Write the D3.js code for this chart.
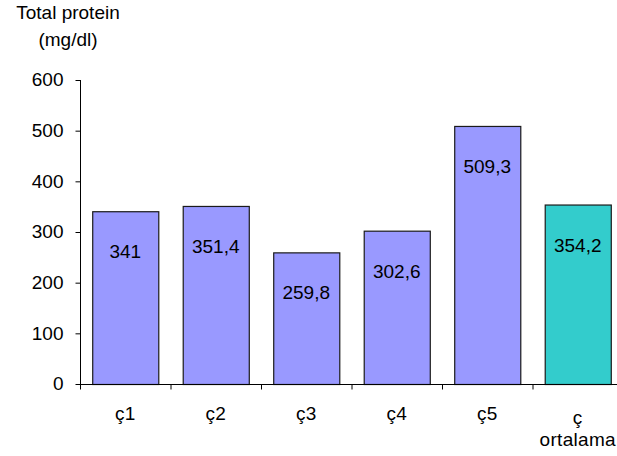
<!DOCTYPE html>
<html>
<head>
<meta charset="utf-8">
<script src="https://cdn.jsdelivr.net/npm/d3@7"></script>
<style>
  html, body { margin: 0; padding: 0; background: #fff; }
  svg { display: block; }
  text { font-family: "Liberation Sans", Arial, sans-serif; fill: #000; }
</style>
</head>
<body>
<svg id="chart" width="617" height="456"></svg>
<script>
// Total protein per group (mg/dl)
const categories = ["ç1", "ç2", "ç3", "ç4", "ç5", "ç\nortalama"];
const values = [341, 351.4, 259.8, 302.6, 509.3, 354.2];
const valueLabels = ["341", "351,4", "259,8", "302,6", "509,3", "354,2"];
const yTicks = [0, 100, 200, 300, 400, 500, 600];
const titleLines = ["Total protein", "(mg/dl)"];

const svg = d3.select("#chart");

const x = d3.scaleBand()
  .domain(categories)
  .range([80, 623])
  .paddingInner(0.27)
  .paddingOuter(0.135);

const y = d3.scaleLinear()
  .domain([0, 600])
  .range([384, 80]);

// bars
svg.append("g")
  .selectAll("rect")
  .data(values)
  .join("rect")
  .attr("x", (d, i) => x(categories[i]) + 0.5)
  .attr("y", d => y(d) + 0.5)
  .attr("width", x.bandwidth())
  .attr("height", d => y(0) - y(d))
  .attr("fill", (d, i) => i === values.length - 1 ? "#33CCCC" : "#9999FF")
  .attr("stroke", "#1a1a1a")
  .attr("stroke-width", 1.2);

// value labels inside bars
svg.append("g")
  .selectAll("text")
  .data(values)
  .join("text")
  .attr("x", (d, i) => x(categories[i]) + x.bandwidth() / 2)
  .attr("y", d => y(d) + 47)
  .attr("text-anchor", "middle")
  .style("font-size", "19px")
  .text((d, i) => valueLabels[i]);

// y axis
const yAxis = svg.append("g")
  .attr("transform", "translate(80.5,0)")
  .call(d3.axisLeft(y).tickValues(yTicks).tickSize(5).tickPadding(12).tickFormat(d3.format("d")));
yAxis.selectAll("text").style("font-size", "19px").attr("dy", "0.3em");
yAxis.select(".domain").attr("d", `M0,${y(600)}V${y(0)}`);

// x axis with boundary ticks between categories
const xAxis = svg.append("g").attr("transform", `translate(0,${y(0) + 0.5})`);
xAxis.append("line")
  .attr("x1", 80).attr("x2", 623)
  .attr("stroke", "#000");
const step = x.step();
xAxis.selectAll("line.bound")
  .data(d3.range(categories.length + 1))
  .join("line")
  .attr("class", "bound")
  .attr("x1", i => 80.5 + i * step)
  .attr("x2", i => 80.5 + i * step)
  .attr("y1", 0).attr("y2", 5)
  .attr("stroke", "#000");

xAxis.selectAll("text.cat")
  .data(categories)
  .join("text")
  .attr("class", "cat")
  .attr("text-anchor", "middle")
  .style("font-size", "19px")
  .style("letter-spacing", "0.3px")
  .each(function(d) {
    const lines = d.split("\n");
    const t = d3.select(this);
    const cx = x(d) + x.bandwidth() / 2;
    lines.forEach((ln, j) => {
      t.append("tspan")
        .attr("x", cx)
        .attr("y", (lines.length > 1 ? 39 : 35.5) + j * 22.5)
        .text(ln);
    });
  });

// axis title
svg.append("g")
  .selectAll("text")
  .data(titleLines)
  .join("text")
  .attr("x", 68)
  .attr("y", (d, i) => 19 + i * 27)
  .attr("text-anchor", "middle")
  .style("font-size", "19px")
  .text(d => d);
</script>
</body>
</html>
